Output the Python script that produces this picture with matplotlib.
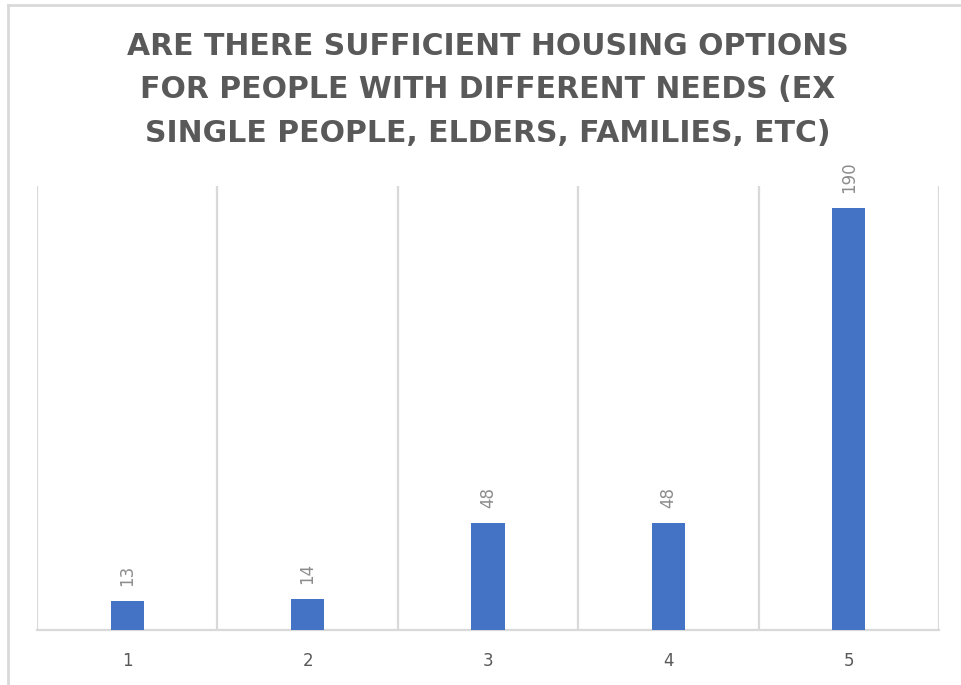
import numpy as np
import matplotlib.pyplot as plt
from matplotlib.lines import Line2D

# survey responses per rating
categories = ['1', '2', '3', '4', '5']
counts = [13, 14, 48, 48, 190]

title = ('ARE THERE SUFFICIENT HOUSING OPTIONS\n'
         'FOR PEOPLE WITH DIFFERENT NEEDS (EX\n'
         'SINGLE PEOPLE, ELDERS, FAMILIES, ETC)')

W, H = 961, 685
fig = plt.figure(figsize=(W / 100, H / 100), dpi=100)
ax = fig.add_axes([37 / W, (H - 630) / H, (939 - 37) / W, (630 - 186) / H])

x = np.arange(1, len(categories) + 1)
ax.bar(x, counts, width=0.185, color='#4472C4', zorder=3)

for xi, v in zip(x, counts):
    ax.annotate(str(v), (xi, v), xytext=(0, 11), textcoords='offset points',
                rotation=90, ha='center', va='bottom', fontsize=12,
                color='#8c8c8c')

# vertical separators between categories
for b in np.arange(0.5, len(categories) + 1, 1.0):
    ax.axvline(b, color='#d9d9d9', lw=1.6, zorder=1)

ax.set_xlim(0.5, len(categories) + 0.5)
ax.set_ylim(0, 200)
ax.set_xticks(x)
ax.set_xticklabels(categories, fontsize=12, color='#595959')
ax.tick_params(axis='x', length=0, pad=16)
ax.set_yticks([])
for s in ['top', 'left', 'right']:
    ax.spines[s].set_visible(False)
ax.spines['bottom'].set_color('#d9d9d9')
ax.spines['bottom'].set_linewidth(1.6)

fig.text(488 / W, 1 - 90 / H, title, ha='center', va='center',
         fontsize=21.5, fontweight='bold', color='#595959',
         linespacing=1.62, family='DejaVu Sans')

# chart frame
fig.add_artist(Line2D([8 / W, 1], [1 - 5 / H, 1 - 5 / H], color='#d9d9d9', lw=2))
fig.add_artist(Line2D([8 / W, 8 / W], [0, 1 - 5 / H], color='#d9d9d9', lw=2))

fig.savefig('out.png', dpi=100)
